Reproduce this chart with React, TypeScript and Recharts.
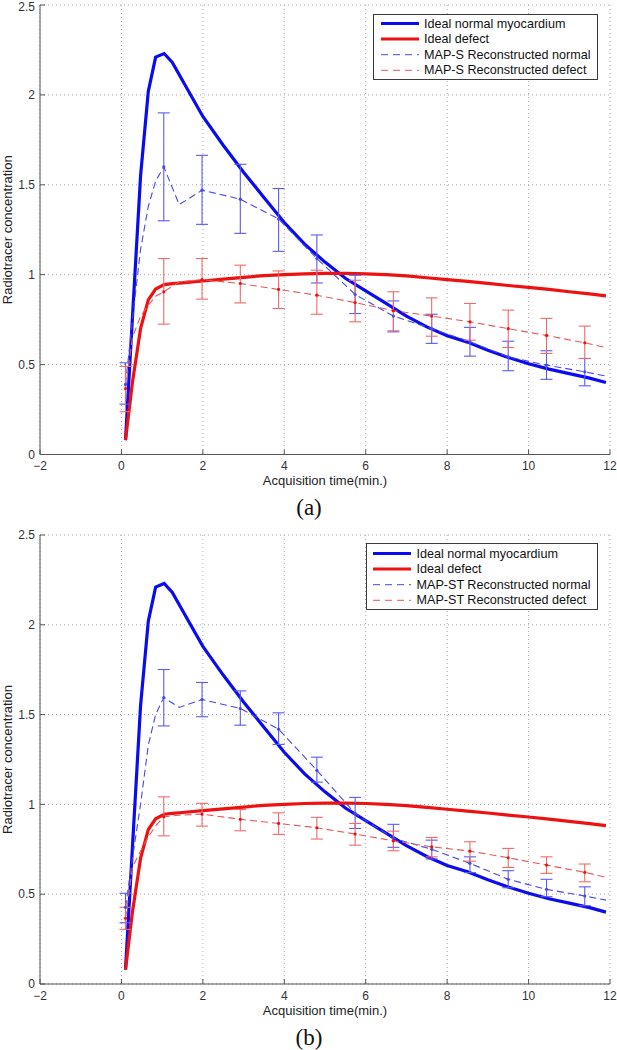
import React from 'react';
import {
  ComposedChart,
  Line,
  Scatter,
  XAxis,
  YAxis,
  CartesianGrid,
  ErrorBar,
  Legend,
  Label,
} from 'recharts';

// ---------- axis ticks ----------
const xTicks = [-2, 0, 2, 4, 6, 8, 10, 12];
const yTicks = [0, 0.5, 1, 1.5, 2, 2.5];

// ---------- ideal time-activity curves (same in both panels) ----------
const idealTimes = [0.1, 0.27, 0.47, 0.66, 0.84, 1.05, 1.25, 1.5, 2, 2.5, 3, 3.5, 4, 4.5, 5, 5.5, 6, 6.5, 7, 7.5, 8, 8.5, 9, 9.5, 10, 10.5, 11, 11.5, 11.9];
const idealNormal = [0.08, 0.76, 1.55, 2.02, 2.21, 2.23, 2.18, 2.08, 1.88, 1.72, 1.57, 1.43, 1.29, 1.17, 1.07, 0.98, 0.91, 0.84, 0.77, 0.71, 0.66, 0.625, 0.58, 0.54, 0.505, 0.475, 0.45, 0.425, 0.4];
const idealDefect = [0.08, 0.4, 0.7, 0.86, 0.92, 0.945, 0.95, 0.955, 0.965, 0.975, 0.985, 0.995, 1.0, 1.005, 1.007, 1.007, 1.005, 1.0, 0.993, 0.983, 0.973, 0.963, 0.952, 0.94, 0.93, 0.918, 0.905, 0.893, 0.882];

// ---------- reconstructed dashed curves ----------
const reconTimes = [0.1, 0.27, 0.47, 0.66, 0.84, 1.04, 1.42, 1.98, 2.92, 3.86, 4.8, 5.74, 6.68, 7.62, 8.56, 9.5, 10.44, 11.38, 11.9];
const mapSNormalCurve = [0.39, 0.75, 1.14, 1.38, 1.52, 1.6, 1.39, 1.47, 1.42, 1.31, 1.09, 0.89, 0.77, 0.7, 0.627, 0.543, 0.497, 0.46, 0.436];
const mapSDefectCurve = [0.367, 0.65, 0.77, 0.83, 0.88, 0.905, 0.96, 0.973, 0.951, 0.918, 0.886, 0.845, 0.8, 0.77, 0.738, 0.7, 0.662, 0.621, 0.595];
const mapSTNormalCurve = [0.427, 0.7, 1.0, 1.33, 1.5, 1.595, 1.54, 1.584, 1.534, 1.419, 1.19, 0.95, 0.811, 0.75, 0.672, 0.583, 0.527, 0.49, 0.467];
const mapSTDefectCurve = [0.366, 0.65, 0.74, 0.82, 0.88, 0.931, 0.94, 0.946, 0.917, 0.894, 0.87, 0.835, 0.797, 0.764, 0.74, 0.703, 0.662, 0.622, 0.594];

// ---------- frame mid-times with error bars ----------
const frameTimes = [0.1, 1.04, 1.98, 2.92, 3.86, 4.8, 5.74, 6.68, 7.62, 8.56, 9.5, 10.44, 11.38];

const mapSNormalMean = [0.39, 1.6, 1.47, 1.42, 1.31, 1.09, 0.89, 0.77, 0.7, 0.627, 0.543, 0.497, 0.46];
const mapSNormalLow = [0.28, 1.3, 1.28, 1.23, 1.13, 0.954, 0.784, 0.682, 0.618, 0.547, 0.466, 0.418, 0.382];
const mapSNormalHigh = [0.51, 1.9, 1.664, 1.614, 1.479, 1.221, 0.997, 0.854, 0.78, 0.707, 0.63, 0.577, 0.534];

const mapSDefectMean = [0.367, 0.905, 0.973, 0.951, 0.918, 0.886, 0.845, 0.8, 0.77, 0.738, 0.7, 0.662, 0.621];
const mapSDefectLow = [0.238, 0.725, 0.864, 0.843, 0.812, 0.78, 0.738, 0.688, 0.658, 0.636, 0.595, 0.562, 0.534];
const mapSDefectHigh = [0.49, 1.09, 1.09, 1.053, 1.021, 1.025, 0.969, 0.905, 0.871, 0.84, 0.803, 0.757, 0.714];

const mapSTNormalMean = [0.427, 1.595, 1.584, 1.534, 1.419, 1.19, 0.95, 0.811, 0.75, 0.672, 0.583, 0.527, 0.49];
const mapSTNormalLow = [0.341, 1.437, 1.488, 1.441, 1.334, 1.124, 0.866, 0.761, 0.696, 0.62, 0.536, 0.486, 0.436];
const mapSTNormalHigh = [0.505, 1.751, 1.679, 1.632, 1.51, 1.263, 1.039, 0.889, 0.801, 0.708, 0.631, 0.583, 0.541];

const mapSTDefectMean = [0.366, 0.931, 0.946, 0.917, 0.894, 0.87, 0.835, 0.797, 0.764, 0.74, 0.703, 0.662, 0.622];
const mapSTDefectLow = [0.304, 0.825, 0.879, 0.853, 0.833, 0.807, 0.773, 0.742, 0.708, 0.684, 0.649, 0.616, 0.569];
const mapSTDefectHigh = [0.427, 1.042, 1.006, 0.972, 0.953, 0.928, 0.894, 0.851, 0.816, 0.792, 0.755, 0.708, 0.668];

// ---------- labels ----------
const legendLabelsA = ['Ideal normal myocardium', 'Ideal defect', 'MAP-S Reconstructed normal', 'MAP-S Reconstructed defect'];
const legendLabelsB = ['Ideal normal myocardium', 'Ideal defect', 'MAP-ST Reconstructed normal', 'MAP-ST Reconstructed defect'];

// ---------- styles ----------
const FONT = '"Liberation Sans", Arial, Helvetica, sans-serif';
const BLUE = '#0b0bf0';
const RED = '#ee1111';
const BLUE_DASH = '#4848e6';
const RED_DASH = '#e65a5a';
const BLUE_ERR = '#5a5af5';
const RED_ERR = '#f06a6a';
const GRID = '#a8a8a8';
const AXIS = '#555555';

const toLine = (xs: number[], ys: number[]) => xs.map((x, i) => ({ x, y: ys[i] }));
const toErr = (xs: number[], mean: number[], low: number[], high: number[]) =>
  xs.map((x, i) => ({ x, y: mean[i], err: [mean[i] - low[i], high[i] - mean[i]] }));

const fmtX = (v: number) => (v < 0 ? '\u2212' + Math.abs(v) : String(v));

type LegendGeom = { left: number; top: number; width: number; height: number; rowTop: number; rowGap: number; lineX1: number; lineX2: number; textX: number };

const makeLegend = (labels: string[], g: LegendGeom) => () => {
  const styles = [
    { color: BLUE, w: 3, dash: undefined as string | undefined },
    { color: RED, w: 3, dash: undefined as string | undefined },
    { color: BLUE_DASH, w: 1, dash: '7 5' },
    { color: RED_DASH, w: 1, dash: '7 5' },
  ];
  return (
    <div
      style={{
        position: 'relative',
        width: g.width,
        height: g.height,
        boxSizing: 'border-box',
        border: '1px solid #3a3a3a',
        background: '#fff',
        fontFamily: FONT,
        fontSize: 12.6,
        color: '#111',
      }}
    >
      <svg width={g.width} height={g.height} style={{ position: 'absolute', left: -1, top: -1 }}>
        {styles.map((s, i) => (
          <line
            key={i}
            x1={g.lineX1}
            x2={g.lineX2}
            y1={g.rowTop + i * g.rowGap}
            y2={g.rowTop + i * g.rowGap}
            stroke={s.color}
            strokeWidth={s.w}
            strokeDasharray={s.dash}
          />
        ))}
      </svg>
      {labels.map((t, i) => (
        <div
          key={t}
          style={{
            position: 'absolute',
            left: g.textX - 1,
            top: g.rowTop + i * g.rowGap - 1 - 8,
            height: 16,
            lineHeight: '16px',
            whiteSpace: 'nowrap',
          }}
        >
          {t}
        </div>
      ))}
    </div>
  );
};

// y tick label, kept inside the picture at the very top
const YTick = (p: any) => {
  const y = Math.max(p.y, 7);
  return (
    <text x={p.x} y={y} dy="0.355em" textAnchor="end" fontFamily={FONT} fontSize={12} fill="#333">
      {String(p.payload.value)}
    </text>
  );
};

type PanelProps = {
  height: number;
  marginTop: number;
  marginBottom: number;
  letter: string;
  labels: string[];
  legend: LegendGeom;
  normalCurve: number[];
  defectCurve: number[];
  normalErr: { x: number; y: number; err: number[] }[];
  defectErr: { x: number; y: number; err: number[] }[];
};

const dotShape = (color: string) => (p: any) => <circle cx={p.cx} cy={p.cy} r={1.6} fill={color} />;

const Panel = (props: PanelProps) => {
  const tickStyle = { fontFamily: FONT, fontSize: 12, fill: '#333' };
  return (
    <ComposedChart
      width={617}
      height={props.height}
      margin={{ top: props.marginTop, right: 7, left: 0, bottom: props.marginBottom }}
    >
      <CartesianGrid stroke={GRID} strokeDasharray="1 3" strokeWidth={1} />
      <XAxis
        type="number"
        dataKey="x"
        domain={[-2, 12]}
        ticks={xTicks}
        allowDataOverflow
        tickFormatter={fmtX}
        height={60}
        tickSize={-5}
        tickMargin={12}
        stroke={AXIS}
        tick={tickStyle}
        interval={0}
      >
        <Label
          content={(lp: any) => {
            const vb = lp.viewBox || {};
            return (
              <g>
                <text
                  x={vb.x + vb.width / 2}
                  y={vb.y + 26}
                  textAnchor="middle"
                  dominantBaseline="central"
                  fontFamily={FONT}
                  fontSize={13}
                  fill="#222"
                >
                  Acquisition time(min.)
                </text>
                <text
                  x={309}
                  y={vb.y + 53}
                  textAnchor="middle"
                  dominantBaseline="central"
                  fontFamily='"Liberation Serif", "Times New Roman", serif'
                  fontSize={23}
                  fill="#111"
                >
                  {props.letter}
                </text>
              </g>
            );
          }}
        />
      </XAxis>
      <YAxis
        type="number"
        domain={[0, 2.5]}
        ticks={yTicks}
        allowDataOverflow
        width={40}
        tickSize={-5}
        tickMargin={10}
        stroke={AXIS}
        tick={<YTick />}
        interval={0}
      >
        <Label
          content={(lp: any) => {
            const vb = lp.viewBox || {};
            const cx = 7.5;
            const cy = vb.y + vb.height / 2;
            return (
              <text
                x={cx}
                y={cy}
                transform={`rotate(-90 ${cx} ${cy})`}
                textAnchor="middle"
                dominantBaseline="central"
                fontFamily={FONT}
                fontSize={13}
                fill="#222"
              >
                Radiotracer concentration
              </text>
            );
          }}
        />
      </YAxis>
      <Legend
        layout="horizontal"
        verticalAlign="middle"
        align="center"
        content={makeLegend(props.labels, props.legend)}
        wrapperStyle={{ left: props.legend.left, top: props.legend.top, width: props.legend.width, height: props.legend.height }}
      />
      <Line
        data={toLine(idealTimes, idealNormal)}
        dataKey="y"
        type="linear"
        stroke={BLUE}
        strokeWidth={3.2}
        dot={false}
        isAnimationActive={false}
        name="ideal-normal"
      />
      <Line
        data={toLine(idealTimes, idealDefect)}
        dataKey="y"
        type="linear"
        stroke={RED}
        strokeWidth={3.2}
        dot={false}
        isAnimationActive={false}
        name="ideal-defect"
      />
      <Line
        data={toLine(reconTimes, props.normalCurve)}
        dataKey="y"
        type="linear"
        stroke={BLUE_DASH}
        strokeWidth={1.1}
        strokeDasharray="7 4"
        dot={false}
        isAnimationActive={false}
        name="recon-normal"
      />
      <Scatter
        data={props.normalErr}
        dataKey="y"
        shape={dotShape(BLUE_DASH)}
        isAnimationActive={false}
        name="recon-normal-err"
      >
        <ErrorBar dataKey="err" direction="y" width={6} stroke={BLUE_ERR} strokeWidth={1.1} />
      </Scatter>
      <Line
        data={toLine(reconTimes, props.defectCurve)}
        dataKey="y"
        type="linear"
        stroke={RED_DASH}
        strokeWidth={1.1}
        strokeDasharray="7 4"
        dot={false}
        isAnimationActive={false}
        name="recon-defect"
      />
      <Scatter
        data={props.defectErr}
        dataKey="y"
        shape={dotShape(RED)}
        isAnimationActive={false}
        name="recon-defect-err"
      >
        <ErrorBar dataKey="err" direction="y" width={6} stroke={RED_ERR} strokeWidth={1.1} />
      </Scatter>
    </ComposedChart>
  );
};

export default function App() {
  return (
    <div style={{ position: 'absolute', left: 0, top: 0, width: 617, height: 1050, background: '#fff' }}>
      <div style={{ position: 'absolute', left: 0, top: 0 }}>
        <Panel
          height={520}
          marginTop={5}
          marginBottom={5.5}
          letter="(a)"
          labels={legendLabelsA}
          legend={{ left: 373, top: 14, width: 225, height: 66, rowTop: 9.5, rowGap: 15.6, lineX1: 8, lineX2: 46, textX: 51 }}
          normalCurve={mapSNormalCurve}
          defectCurve={mapSDefectCurve}
          normalErr={toErr(frameTimes, mapSNormalMean, mapSNormalLow, mapSNormalHigh)}
          defectErr={toErr(frameTimes, mapSDefectMean, mapSDefectLow, mapSDefectHigh)}
        />
      </div>
      <div style={{ position: 'absolute', left: 0, top: 520 }}>
        <Panel
          height={530}
          marginTop={15}
          marginBottom={6}
          letter="(b)"
          labels={legendLabelsB}
          legend={{ left: 366, top: 23, width: 232, height: 67, rowTop: 10.5, rowGap: 15.6, lineX1: 7, lineX2: 45, textX: 50.5 }}
          normalCurve={mapSTNormalCurve}
          defectCurve={mapSTDefectCurve}
          normalErr={toErr(frameTimes, mapSTNormalMean, mapSTNormalLow, mapSTNormalHigh)}
          defectErr={toErr(frameTimes, mapSTDefectMean, mapSTDefectLow, mapSTDefectHigh)}
        />
      </div>
    </div>
  );
}
